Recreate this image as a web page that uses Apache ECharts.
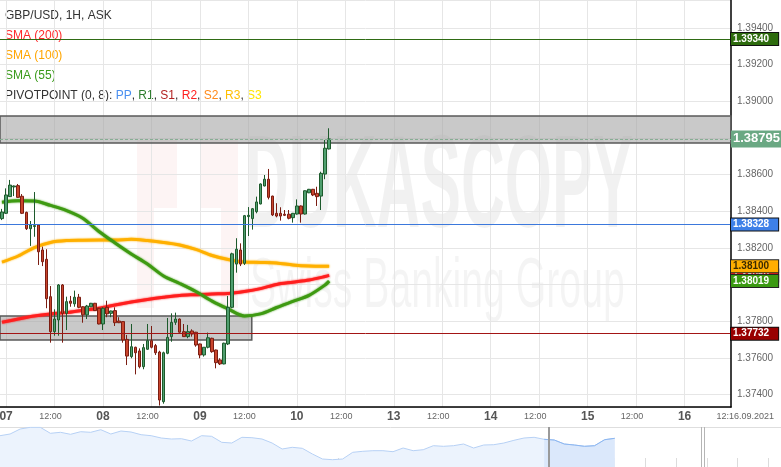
<!DOCTYPE html>
<html><head><meta charset="utf-8">
<script src="https://cdn.jsdelivr.net/npm/echarts@6/dist/echarts.min.js"></script>
<style>html,body{margin:0;padding:0;background:#fff}#c{width:781px;height:467px}</style>
</head><body><div id="c"></div>
<script>
// ---------- data ----------
const dayList = ['07','08','09','10','13','14','15','16'];
const firstSlot = '06 23:00';
const lastDayHours = 12;
// hourly candles from 06 23:00 : [open, high, low, close]
const ohlc = [
[1.38360,1.38413,1.38352,1.38396],[1.38389,1.38525,1.38385,1.38489],[1.38480,1.38571,1.38478,1.38543],[1.38533,1.38541,1.38483,1.38538],
[1.38540,1.38549,1.38474,1.38476],[1.38482,1.38494,1.38385,1.38389],[1.38394,1.38398,1.38298,1.38305],[1.38305,1.38347,1.38211,1.38325],
[1.38317,1.38505,1.38261,1.38322],[1.38325,1.38328,1.38107,1.38179],[1.38189,1.38207,1.38101,1.38125],[1.38138,1.38193,1.37871,1.37923],
[1.37934,1.37992,1.37683,1.37743],[1.37743,1.37865,1.37721,1.37812],[1.37807,1.38003,1.37721,1.37998],[1.37998,1.38003,1.37683,1.37843],
[1.37843,1.37934,1.37752,1.37907],[1.37910,1.37938,1.37879,1.37898],[1.37895,1.37967,1.37879,1.37931],[1.37931,1.37949,1.37871,1.37876],
[1.37879,1.37882,1.37792,1.37835],[1.37835,1.37889,1.37812,1.37883],[1.37879,1.37900,1.37877,1.37898],[1.37898,1.37900,1.37856,1.37858],
[1.37871,1.37873,1.37783,1.37785],[1.37785,1.37876,1.37752,1.37871],[1.37876,1.37912,1.37822,1.37840],[1.37843,1.37858,1.37822,1.37856],
[1.37858,1.37876,1.37774,1.37792],[1.37801,1.37822,1.37790,1.37792],[1.37798,1.37800,1.37683,1.37698],[1.37701,1.37725,1.37561,1.37610],
[1.37607,1.37785,1.37598,1.37661],[1.37658,1.37661,1.37510,1.37628],[1.37638,1.37652,1.37543,1.37552],[1.37552,1.37676,1.37538,1.37656],
[1.37647,1.37785,1.37645,1.37694],[1.37694,1.37774,1.37652,1.37658],[1.37667,1.37676,1.37616,1.37628],[1.37632,1.37639,1.37340,1.37370],
[1.37361,1.37634,1.37350,1.37628],[1.37625,1.37818,1.37620,1.37712],[1.37716,1.37843,1.37688,1.37794],[1.37794,1.37847,1.37780,1.37812],
[1.37812,1.37815,1.37738,1.37740],[1.37743,1.37785,1.37714,1.37716],[1.37716,1.37780,1.37707,1.37743],[1.37747,1.37756,1.37716,1.37730],
[1.37740,1.37742,1.37661,1.37670],[1.37676,1.37678,1.37598,1.37616],[1.37616,1.37658,1.37607,1.37658],[1.37658,1.37738,1.37652,1.37710],
[1.37707,1.37710,1.37628,1.37634],[1.37643,1.37645,1.37543,1.37574],[1.37589,1.37598,1.37561,1.37567],[1.37567,1.37683,1.37565,1.37680],
[1.37676,1.37938,1.37670,1.37876],[1.37876,1.38174,1.37871,1.38168],[1.38112,1.38253,1.38065,1.38193],[1.38189,1.38225,1.38101,1.38112],
[1.38116,1.38380,1.38107,1.38376],[1.38371,1.38423,1.38265,1.38378],[1.38360,1.38418,1.38300,1.38414],[1.38398,1.38480,1.38389,1.38451],
[1.38440,1.38552,1.38438,1.38549],[1.38538,1.38598,1.38536,1.38575],[1.38575,1.38631,1.38465,1.38476],[1.38483,1.38485,1.38374,1.38380],
[1.38389,1.38444,1.38367,1.38374],[1.38389,1.38422,1.38349,1.38374],[1.38384,1.38407,1.38374,1.38378],[1.38384,1.38407,1.38356,1.38362],
[1.38365,1.38391,1.38338,1.38389],[1.38385,1.38465,1.38382,1.38429],[1.38429,1.38432,1.38338,1.38385],[1.38385,1.38514,1.38382,1.38512],
[1.38501,1.38522,1.38499,1.38520],[1.38520,1.38522,1.38483,1.38489],[1.38498,1.38534,1.38429,1.38480],[1.38483,1.38616,1.38407,1.38607],
[1.38603,1.38789,1.38575,1.38744],[1.38740,1.38853,1.38738,1.38795]
];
const smaTimes = ['06 23:00','07 03:00','07 07:00','07 11:00','07 15:00','07 19:00','07 23:00','08 03:00','08 07:00','08 11:00','08 15:00',
  '08 19:00','08 23:00','09 03:00','09 07:00','09 11:00','09 15:00','09 19:00','09 23:00','10 03:00','10 07:00','10 08:00'];
const sma55  = [1.38449,1.38457,1.38456,1.38432,1.38404,1.38362,1.38290,1.38227,1.38167,1.38112,1.38047,1.38006,1.37962,1.37910,1.37867,1.37829,1.37840,1.37875,1.37908,1.37941,1.37998,1.38019];
const sma100 = [1.38123,1.38156,1.38202,1.38230,1.38240,1.38242,1.38243,1.38243,1.38247,1.38240,1.38230,1.38216,1.38192,1.38159,1.38137,1.38123,1.38121,1.38118,1.38107,1.38101,1.38100,1.38100];
const sma200 = [1.37794,1.37812,1.37829,1.37840,1.37847,1.37860,1.37871,1.37889,1.37905,1.37919,1.37931,1.37941,1.37945,1.37949,1.37951,1.37962,1.37978,1.38001,1.38013,1.38025,1.38044,1.38050];
const pivotR1 = 1.39340, pivotPP = 1.38328, pivotS1 = 1.37732;
const lastPrice = 1.38795;
const upperZone = [1.38772, 1.38920];
const lowerZone = [1.37697, 1.37828];
const lowerZoneEnd = '09 13:00';
const yRange = [1.37332, 1.39553];
const yStep = 0.002;
const navValues = [1.3913,1.3930,1.3980,1.3997,1.3997,1.3937,1.3947,1.3927,1.3953,1.3947,1.3973,1.3930,1.3960,1.3950,1.3923,1.3913,
  1.3890,1.3880,1.3883,1.3860,1.3913,1.3907,1.3847,1.3840,1.3897,1.3893,1.3880,1.3840,1.3780,1.3797,1.3787,1.3730,1.3680,1.3673,
  1.3680,1.3747,1.3757,1.3763,1.3763,1.3753,1.3790,1.3763,1.3773,1.3813,1.3807,1.3813,1.3830,1.3790,1.3820,1.3823,1.3840,1.3867,
  1.3890,1.3897,1.3877,1.3870,1.3830,1.3820,1.3807,1.3813,1.3873,1.3887];
const navWindowStart = 54.5, navWindowEnd = 69.6;
const dateStamp = '12:16.09.2021';

// ---------- build ----------
const cats = [firstSlot];
dayList.forEach(d => {
  const n = d === dayList[dayList.length - 1] ? lastDayHours : 24;
  for (let h = 0; h < n; h++) cats.push(d + ' ' + String(h).padStart(2, '0') + ':00');
});
const candleData = ohlc.map(r => [r[0], r[3], r[2], r[1]]);
const pairs = arr => arr.map((v, i) => [smaTimes[i], v]);
const isLabelSlot = (i, v) => v.endsWith(' 00:00') || v.endsWith(' 12:00');
const FONT = '"Liberation Sans", Arial, sans-serif';
const last = a => a[a.length - 1];
const HIDDEN_LINE = { color: 'rgba(0,0,0,0)', width: 0, opacity: 1 };

function tag(bg, fg, border, size) {
  return {
    show: true, position: 'end', distance: 0, opacity: 1,
    formatter: p => Number(p.value).toFixed(5),
    backgroundColor: bg, color: fg, borderColor: border || 'transparent', borderWidth: border ? 1 : 0,
    padding: size > 10 ? [2, 2, 1, 2] : [1, 9, 0, 2],
    fontSize: size, fontWeight: 'bold', fontFamily: FONT, lineHeight: size > 10 ? 14 : 11
  };
}
function smaSeries(name, data, color) {
  return {
    name, type: 'line', data: pairs(data), smooth: 0.3, showSymbol: false, z: 2,
    lineStyle: { color, width: 3, shadowColor: color, shadowBlur: 2 }
  };
}

const chart = echarts.init(document.getElementById('c'), null, { renderer: 'canvas' });
chart.setOption({
  animation: false,
  textStyle: { fontFamily: FONT },
  grid: [
    { left: 0, right: 50, top: 0, bottom: 60, containLabel: false, outerBoundsMode: 'none' },
    { left: 0, right: 0, top: 427, bottom: 0, containLabel: false, outerBoundsMode: 'none' }
  ],
  xAxis: [
    { type: 'category', gridIndex: 0, data: cats, boundaryGap: true,
      axisLine: { show: true, lineStyle: { color: '#000', width: 1.5 } },
      axisTick: { show: false },
      axisLabel: { interval: isLabelSlot, margin: 2,
        formatter: v => v.endsWith(' 00:00') ? '{d|' + v.slice(0, 2) + '}' : '{t|12:00}',
        rich: { d: { fontSize: 12, fontWeight: 'bold', color: '#555', lineHeight: 16 },
                t: { fontSize: 9, color: '#666', lineHeight: 16, padding: [0, 8, 0, 0] } } },
      splitLine: { show: true, interval: isLabelSlot, alignWithLabel: true, lineStyle: { color: '#e6e6e6' } } },
    { type: 'value', gridIndex: 1, min: 0, max: 77.5, interval: 3.05,
      axisLine: { show: false }, axisLabel: { show: false }, splitLine: { show: false },
      axisTick: { show: true, inside: true, length: 9, lineStyle: { color: '#dcdcdc' } } },
    { type: 'category', gridIndex: 0, data: cats, boundaryGap: false, show: false }
  ],
  yAxis: [
    { type: 'value', gridIndex: 0, position: 'right', min: yRange[0], max: yRange[1],
      splitNumber: 10, minInterval: yStep, maxInterval: yStep,
      axisLine: { show: true, lineStyle: { color: '#000', width: 1.5 } },
      axisTick: { show: false },
      axisLabel: { formatter: v => v.toFixed(5), fontSize: 10, color: '#666', margin: 6, showMinLabel: false, showMaxLabel: false },
      splitLine: { lineStyle: { color: '#e6e6e6' } } },
    { type: 'value', gridIndex: 1, min: 1.36, max: 1.40, show: false }
  ],
  graphic: [
    // watermark
    { type: 'rect', z: -5, silent: true, shape: { x: 137, y: 140, width: 40, height: 68 }, style: { fill: 'rgba(225,60,60,0.06)' } },
    { type: 'rect', z: -5, silent: true, shape: { x: 137, y: 208, width: 17, height: 100 }, style: { fill: 'rgba(225,60,60,0.06)' } },
    { type: 'rect', z: -5, silent: true, shape: { x: 200, y: 140, width: 38, height: 68 }, style: { fill: 'rgba(225,60,60,0.06)' } },
    { type: 'rect', z: -5, silent: true, shape: { x: 221, y: 208, width: 17, height: 100 }, style: { fill: 'rgba(225,60,60,0.06)' } },
    { type: 'text', z: -5, silent: true, x: 245, y: 191, scaleX: 0.46,
      style: { text: 'DUKASCOPY', font: 'bold 132px ' + FONT, fill: 'rgba(0,0,0,0.055)', verticalAlign: 'middle' } },
    { type: 'text', z: -5, silent: true, x: 250, y: 288, scaleX: 0.56,
      style: { text: 'Swiss Banking Group', font: '70px ' + FONT, fill: 'rgba(0,0,0,0.045)', verticalAlign: 'middle' } },
    // legend
    { type: 'text', x: 5, y: 16, style: { text: 'GBP/USD, 1H, ASK', font: '12px ' + FONT, fill: '#333', verticalAlign: 'middle' } },
    { type: 'text', x: 5, y: 36, style: { text: 'SMA (200)', font: '12px ' + FONT, fill: '#ff2a2a', verticalAlign: 'middle' } },
    { type: 'text', x: 5, y: 56, style: { text: 'SMA (100)', font: '12px ' + FONT, fill: '#ffa500', verticalAlign: 'middle' } },
    { type: 'text', x: 5, y: 76, style: { text: 'SMA (55)', font: '12px ' + FONT, fill: '#3a9a1a', verticalAlign: 'middle' } },
    { type: 'text', x: 5, y: 96, style: {
        text: '{k|PIVOTPOINT (0, 8): }{a|PP}{k|, }{b|R1}{k|, }{c|S1}{k|, }{d|R2}{k|, }{e|S2}{k|, }{f|R3}{k|, }{g|S3}',
        font: '12px ' + FONT, verticalAlign: 'middle',
        rich: { k: { fill: '#333', fontSize: 12 }, a: { fill: '#4a8ff0', fontSize: 12 }, b: { fill: '#2e7d2e', fontSize: 12 },
                c: { fill: '#b22222', fontSize: 12 }, d: { fill: '#ff2020', fontSize: 12 }, e: { fill: '#ff8a1a', fontSize: 12 },
                f: { fill: '#ffbf00', fontSize: 12 }, g: { fill: '#ffe600', fontSize: 12 } } } },
    // navigator border and date stamp
    { type: 'line', silent: true, shape: { x1: 0, y1: 427.5, x2: 781, y2: 427.5 }, style: { stroke: '#dedede', lineWidth: 1 } },
    { type: 'text', x: 774, y: 417, style: { text: dateStamp, font: '9px ' + FONT, fill: '#666', align: 'right', verticalAlign: 'middle' } }
  ],
  series: [
    { name: 'zones', type: 'line', xAxisIndex: 2, yAxisIndex: 0, data: [], z: 1,
      markArea: { silent: true, itemStyle: { color: 'rgba(165,165,165,0.6)', borderColor: '#5a5a5a', borderWidth: 1.5 },
        data: [
          [{ yAxis: upperZone[1] }, { yAxis: upperZone[0] }],
          [{ yAxis: lowerZone[1] }, { xAxis: lowerZoneEnd, yAxis: lowerZone[0] }]
        ] } },
    smaSeries('SMA (200)', sma200, '#ff1f1f'),
    smaSeries('SMA (100)', sma100, '#ffb000'),
    smaSeries('SMA (55)', sma55, '#3e9a12'),
    { name: 'GBP/USD', type: 'candlestick', data: candleData, barWidth: 3, z: 3,
      itemStyle: { color: '#4f9e6e', color0: '#c9452d', borderColor: '#1d5a2c', borderColor0: '#7b1d12', borderWidth: 1 } },
    { name: 'levels', type: 'line', xAxisIndex: 2, yAxisIndex: 0, data: [], z: 4,
      markLine: { symbol: 'none', silent: true, animation: false, precision: 5,
        data: [
          { yAxis: pivotR1, lineStyle: { color: '#2f6b14', width: 1, type: 'solid' }, label: tag('#2d6b0d', '#fff', '#111', 10) },
          { yAxis: pivotPP, lineStyle: { color: '#3b78dc', width: 1, type: 'solid' }, label: tag('#3d80e8', '#fff', '#111', 10) },
          { yAxis: pivotS1, lineStyle: { color: '#a31515', width: 1, type: 'solid' }, label: tag('#990000', '#fff', '#111', 10) },
          { yAxis: lastPrice, lineStyle: { color: '#86ad93', width: 1, type: [3, 2] }, label: tag('#6aa883', '#fff', null, 13) },
          { yAxis: last(sma200), lineStyle: HIDDEN_LINE, label: tag('#ff1a1a', '#fff', '#222', 10) },
          { yAxis: last(sma100), lineStyle: HIDDEN_LINE, label: tag('#ffae00', '#3a2a00', '#222', 10) },
          { yAxis: last(sma55), lineStyle: HIDDEN_LINE, label: tag('#3b9a12', '#fff', '#222', 10) }
        ] } },
    { name: 'overview', type: 'line', xAxisIndex: 1, yAxisIndex: 1, data: navValues.map((v, i) => [i, v]),
      showSymbol: false, lineStyle: { color: '#b7d1f5', width: 1 }, areaStyle: { color: '#ecf3fd', opacity: 1 },
      markLine: { symbol: 'none', silent: true, label: { show: false }, precision: 3,
        data: [
          { xAxis: navWindowStart, lineStyle: { color: '#9a9a9a', width: 2, type: 'solid' } },
          { xAxis: navWindowEnd, lineStyle: { color: '#b5b5b5', width: 1, type: 'solid' } },
          { xAxis: navWindowEnd + 0.3, lineStyle: { color: '#b5b5b5', width: 1, type: 'solid' } }
        ] } },
    { name: 'overview window', type: 'line', xAxisIndex: 1, yAxisIndex: 1,
      data: navValues.map((v, i) => [i, v]).filter(p => p[0] >= Math.floor(navWindowStart)),
      showSymbol: false, lineStyle: { color: '#8cb6f0', width: 1 }, areaStyle: { color: '#dbe8fb', opacity: 1 } }
  ]
});
</script>
</body></html>
